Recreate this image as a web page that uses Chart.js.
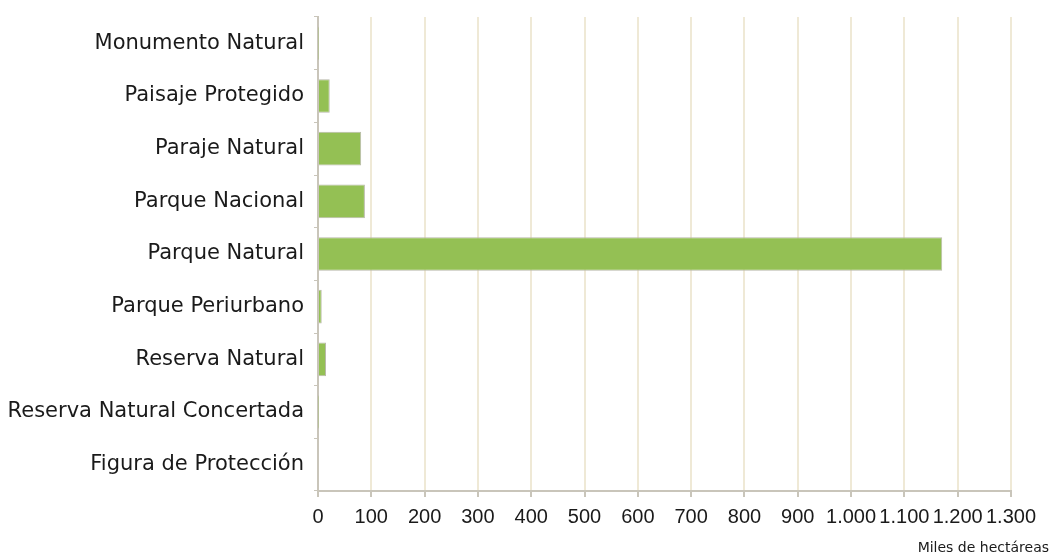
<!DOCTYPE html>
<html>
<head>
<meta charset="utf-8">
<script src="https://cdn.jsdelivr.net/npm/chart.js@4/dist/chart.umd.min.js"></script>
<style>
  html, body { margin: 0; padding: 0; background: #fff; }
  #wrap { width: 1053px; height: 558px; }
</style>
</head>
<body>
<div id="wrap"><canvas id="chart"></canvas></div>
<script>
const categories = [
  'Monumento Natural',
  'Paisaje Protegido',
  'Paraje Natural',
  'Parque Nacional',
  'Parque Natural',
  'Parque Periurbano',
  'Reserva Natural',
  'Reserva Natural Concertada',
  'Figura de Protección'
];
// miles de hectáreas
const hectareas = [0.5, 22, 81, 88, 1171, 7, 15, 0.5, 0];
const xMin = 0;
const xMax = 1300;
const xStep = 100;

const FONT = '"DejaVu Sans", Verdana, sans-serif';
const TICK_FONT = '"Liberation Sans", Arial, sans-serif';

function fmt(v) {
  return String(v).replace(/\B(?=(\d{3})+(?!\d))/g, '.');
}

const unitLabel = {
  id: 'unitLabel',
  afterDraw(chart) {
    const ctx = chart.ctx;
    ctx.save();
    ctx.font = '14px ' + FONT;
    ctx.fillStyle = '#1a1a1a';
    ctx.textAlign = 'right';
    ctx.textBaseline = 'middle';
    ctx.fillText('Miles de hectáreas', 1049, 548);
    ctx.restore();
  }
};

new Chart(document.getElementById('chart'), {
  type: 'bar',
  data: {
    labels: categories,
    datasets: [{
      data: hectareas,
      backgroundColor: '#94c054',
      borderColor: '#b9b9aa',
      borderWidth: 1,
      borderSkipped: 'left',
      categoryPercentage: 0.8,
      barPercentage: 0.8
    }]
  },
  options: {
    indexAxis: 'y',
    responsive: true,
    maintainAspectRatio: false,
    animation: false,
    layout: { padding: { top: 17, right: 42, left: 0, bottom: 0 } },
    plugins: {
      legend: { display: false },
      tooltip: { enabled: false }
    },
    scales: {
      x: {
        min: xMin,
        max: xMax,
        afterFit(scale) { scale.height = 67; },
        border: { color: '#c9c5ba', width: 2 },
        grid: {
          color: '#efe9d6',
          lineWidth: 2,
          tickColor: '#c9c5ba',
          tickLength: 6
        },
        ticks: {
          stepSize: xStep,
          autoSkip: false,
          color: '#1a1a1a',
          padding: 8,
          maxRotation: 0,
          font: { family: TICK_FONT, size: 20 },
          callback: (v) => fmt(v)
        }
      },
      y: {
        afterFit(scale) {
          scale.width = 318;
          scale.paddingTop = 0;
          scale.paddingBottom = 0;
        },
        border: { color: '#c9c5ba', width: 2 },
        grid: {
          offset: true,
          drawOnChartArea: false,
          tickColor: '#c9c5ba',
          tickLength: 4
        },
        ticks: {
          color: '#1a1a1a',
          padding: 10,
          font: { family: FONT, size: 21 }
        }
      }
    }
  },
  plugins: [unitLabel]
});
</script>
</body>
</html>
